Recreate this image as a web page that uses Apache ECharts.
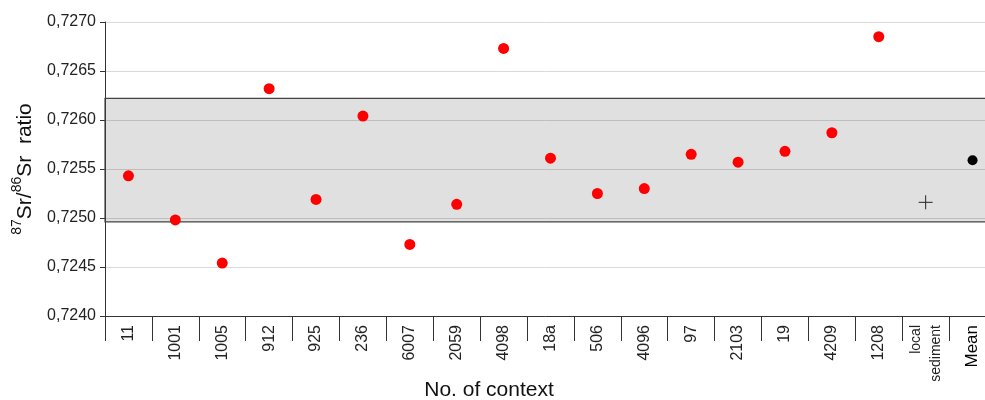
<!DOCTYPE html>
<html>
<head>
<meta charset="utf-8">
<script src="https://cdn.jsdelivr.net/npm/echarts@6/dist/echarts.min.js"></script>
<style>
html, body { margin: 0; padding: 0; background: #fff; }
#chart { width: 985px; height: 400px; }
</style>
</head>
<body>
<div id="chart"></div>
<script>
// contexts on the x axis
var contexts = ['11', '1001', '1005', '912', '925', '236', '6007', '2059', '4098', '18a',
	'506', '4096', '97', '2103', '19', '4209', '1208', 'local\nsediment', 'Mean'];
// 87Sr/86Sr of each sample
var sampleRatio = [0.72543, 0.72498, 0.72454, 0.72632, 0.72519, 0.72604, 0.72473, 0.72514, 0.72673, 0.72561,
	0.72525, 0.72530, 0.72565, 0.72557, 0.72568, 0.72587, 0.72685];
var sedimentRatio = 0.72516;
var meanRatio = 0.72559;
// local range (grey band)
var bandLow = 0.72496;
var bandHigh = 0.72622;

var font = 'Liberation Sans, Arial, sans-serif';

var samples = sampleRatio.map(function (v, i) { return [contexts[i], v]; });

var myChart = echarts.init(document.getElementById('chart'));
var option = {
	animation: false,
	grid: { left: 105, top: 22, width: 891, bottom: 84, outerBoundsMode: 'none', containLabel: false },
	xAxis: {
		type: 'category',
		data: contexts.map(function (c) {
			if (c === 'local\nsediment') return { value: c, textStyle: { fontSize: 14, lineHeight: 20 } };
			if (c === 'Mean') return { value: c, textStyle: { fontSize: 17, color: '#000' } };
			return c;
		}),
		axisLine: { lineStyle: { color: '#333', width: 1 } },
		axisTick: { show: true, length: 25, interval: 0, lineStyle: { color: '#333' } },
		axisLabel: { rotate: 90, margin: 9, fontSize: 16, color: '#222', fontFamily: font, interval: 0 },
		splitLine: { show: false }
	},
	yAxis: {
		type: 'value',
		min: 0.724,
		max: 0.727,
		interval: 0.0005,
		axisLine: { show: true, lineStyle: { color: '#333' } },
		axisTick: { show: true, length: 5, lineStyle: { color: '#333' } },
		axisLabel: {
			margin: 9, fontSize: 16, color: '#222', fontFamily: font,
			formatter: function (v) { return v.toFixed(4).replace('.', ','); }
		},
		splitLine: { lineStyle: { color: '#d9d9d9', width: 1 } },
		name: '{sup|87}{b|Sr/}{sup|86}{b|Sr  ratio}',
		nameLocation: 'middle',
		nameGap: 66,
		nameRotate: 90,
		nameTextStyle: {
			fontFamily: font,
			rich: {
				b: { fontSize: 21, color: '#111', fontFamily: font, verticalAlign: 'bottom', lineHeight: 26 },
				sup: { fontSize: 14, color: '#111', fontFamily: font, verticalAlign: 'top', lineHeight: 26, padding: [0, 0, 8, 0] }
			}
		}
	},
	graphic: [{
		type: 'text', x: 489, y: 390,
		style: { text: 'No. of context', fontSize: 21, fontFamily: font, fill: '#111', textAlign: 'center', textVerticalAlign: 'middle' }
	}],
	series: [
		{
			name: 'samples',
			type: 'scatter',
			data: samples,
			symbolSize: 11,
			itemStyle: { color: '#ff0000', opacity: 1 },
			z: 5,
			markArea: {
				silent: true,
				itemStyle: { color: 'rgba(0,0,0,0.12)', borderColor: '#444', borderWidth: 1.2, opacity: 1 },
				data: [[{ yAxis: bandLow }, { yAxis: bandHigh }]]
			}
		},
		{
			name: 'sediment',
			type: 'scatter',
			data: [['local\nsediment', sedimentRatio]],
			symbol: 'path://M0,5L10,5M5,0L5,10',
			symbolSize: 14,
			itemStyle: { color: 'none', borderColor: '#222', borderWidth: 1, opacity: 1 },
			z: 5
		},
		{
			name: 'mean',
			type: 'scatter',
			data: [['Mean', meanRatio]],
			symbolSize: 10,
			itemStyle: { color: '#000', opacity: 1 },
			z: 5
		}
	]
};
myChart.setOption(option);
</script>
</body>
</html>
